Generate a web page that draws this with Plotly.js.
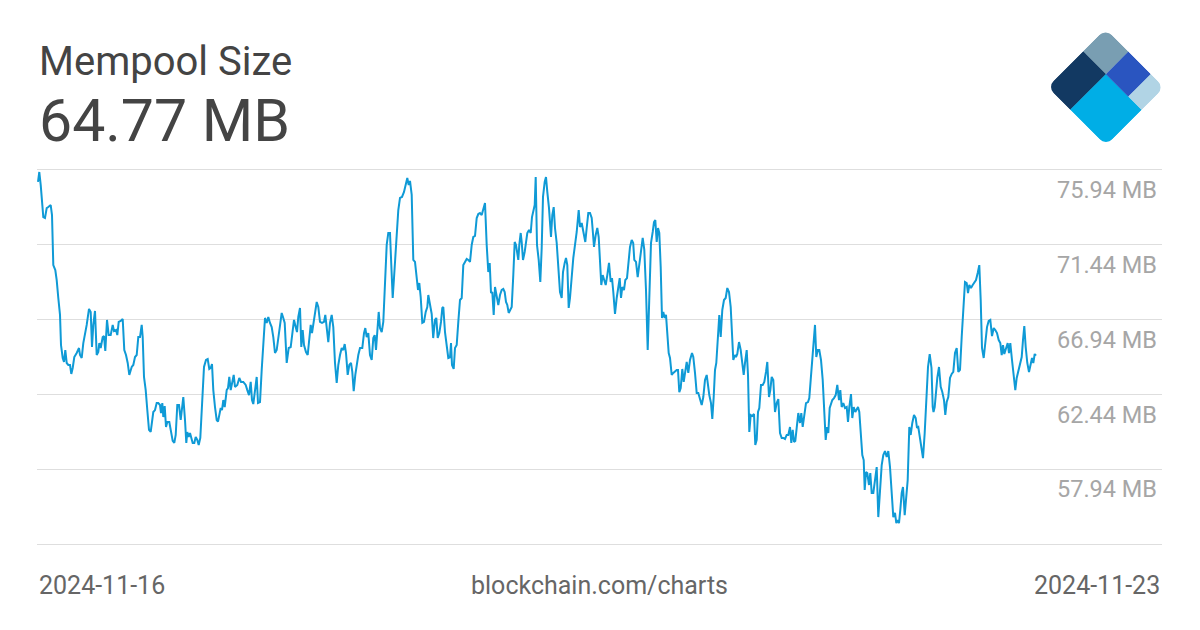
<!DOCTYPE html>
<html>
<head>
<meta charset="utf-8">
<script src="https://cdn.plot.ly/plotly-3.0.1.min.js"></script>
<style>html,body{margin:0;padding:0;background:#fff;}#chart{width:1200px;height:630px;}</style>
</head>
<body>
<div id="chart"></div>
<script>
// Minutes since 2024-11-16 00:00
const minutesSinceStart = [
0,13,27,43,53,70,87,103,127,140,
153,173,187,203,220,230,247,260,273,287,
303,320,333,347,363,387,410,420,437,453,
470,487,510,527,540,553,570,587,603,613,
627,647,660,673,690,707,727,747,760,780,
793,807,827,847,863,880,897,913,937,953,
970,987,1003,1020,1037,1047,1060,1077,1093,1110,
1127,1143,1153,1170,1187,1203,1220,1230,1243,1253,
1267,1280,1293,1313,1327,1347,1363,1377,1393,1410,
1427,1443,1453,1470,1483,1493,1507,1520,1533,1547,
1563,1577,1593,1607,1623,1640,1660,1680,1697,1713,
1727,1740,1753,1770,1787,1800,1813,1827,1840,1853,
1867,1887,1900,1913,1927,1943,1957,1970,1993,2013,
2030,2053,2077,2093,2110,2127,2140,2153,2173,2187,
2200,2220,2237,2253,2270,2287,2303,2320,2337,2353,
2370,2387,2403,2420,2437,2453,2467,2487,2507,2527,
2547,2560,2577,2590,2603,2620,2633,2647,2660,2680,
2697,2713,2727,2740,2753,2770,2787,2803,2820,2840,
2860,2873,2887,2903,2920,2937,2953,2970,2987,3003,
3020,3037,3053,3067,3080,3097,3113,3130,3143,3157,
3173,3187,3203,3220,3243,3260,3273,3287,3303,3320,
3337,3353,3367,3380,3393,3407,3420,3437,3453,3470,
3487,3503,3520,3533,3547,3560,3573,3587,3603,3620,
3640,3660,3677,3693,3707,3720,3737,3753,3770,3787,
3800,3813,3827,3843,3860,3877,3893,3903,3920,3937,
3952,3970,3983,3997,4013,4030,4043,4053,4070,4087,
4103,4120,4130,4140,4157,4170,4187,4203,4220,4237,
4253,4270,4287,4303,4320,4337,4353,4370,4387,4403,
4420,4437,4453,4470,4487,4503,4517,4530,4543,4557,
4570,4587,4603,4620,4637,4653,4667,4680,4693,4707,
4723,4737,4753,4767,4780,4793,4803,4813,4827,4837,
4850,4867,4880,4893,4910,4927,4940,4953,4967,4977,
4990,5007,5023,5037,5050,5067,5080,5093,5110,5130,
5143,5157,5170,5187,5203,5220,5237,5250,5267,5280,
5293,5307,5320,5337,5353,5370,5387,5407,5420,5437,
5453,5473,5487,5503,5520,5537,5547,5560,5577,5593,
5607,5620,5633,5647,5660,5677,5693,5710,5727,5740,
5753,5770,5787,5803,5817,5830,5843,5860,5873,5890,
5907,5920,5937,5952,5963,5980,5997,6013,6030,6047,
6063,6080,6097,6113,6130,6147,6160,6173,6187,6200,
6213,6227,6240,6253,6267,6280,6293,6307,6320,6337,
6353,6370,6387,6400,6413,6427,6443,6457,6470,6487,
6503,6520,6540,6553,6570,6587,6603,6620,6637,6653,
6670,6687,6700,6713,6730,6743,6757,6770,6783,6800,
6813,6827,6843,6860,6877,6893,6910,6927,6940,6953,
6970,6980,6993,7010,7027,7043,7057,7070,7087,7100,
7113,7127,7143,7160,7173,7187,7200,7213,7230,7247,
7263,7280,7293,7310,7323,7337,7353,7370,7387,7403,
7420,7437,7453,7470,7487,7503,7520,7533,7547,7560,
7573,7587,7603,7620,7633,7647,7660,7680,7700,7713,
7727,7740,7753,7770,7783,7797,7813,7830,7847,7860,
7877,7890,7903,7917,7927,7943,7960,7977,7993,8010,
8023,8037,8053,8070,8087,8100,8113,8130,8143,8157,
8173,8187,8200,8213,8230,8243,8257,8267,8280,8293,
8310,8323,8337,8353,8370,8387,8403,8420,8437,8453,
8470,8487,8503,8520,8537,8553,8570,8583,8597,8610,
8623,8637,8650,8667,8680,8697,8713,8727,8743,8760,
8777,8790,8803,8820,8837,8850,8867,8883,8900,8917,
8935,8947,8955,8967,8980,8993,9010,9027,9043,9060,
9073,9087,9103,9120,9137,9153,9170,9187,9203,9220,
9237,9253,9270,9287,9300,9313,9330,9347,9363,9380,
9397,9413,9427,9440,9457,9473,9490,9507,9523,9540,
9557,9573,9590,9607,9623,9637,9650,9663,9680,9697,
9710,9723,9740,9757,9773,9787,9803,9820,9837,9850,
9863,9877,9893,9910,9927,9940,9953,9967,9980
];

// Mempool size in MB
const mempoolMB = [
75.22,75.82,75.04,73.65,73.11,73.05,73.65,73.71,73.83,73.23,
70.22,69.92,69.32,68.24,67.22,65.41,64.63,64.39,65.11,64.33,
64.21,64.21,63.67,64.03,64.69,64.93,65.23,64.81,64.63,65.53,
66.01,66.62,67.58,67.40,65.29,66.62,67.46,64.81,64.99,65.53,
65.23,65.89,65.95,65.05,66.92,66.01,66.01,66.62,66.25,66.31,
66.01,66.80,66.86,66.98,65.11,64.81,64.33,63.61,64.09,64.21,
64.69,64.81,65.89,65.89,66.62,65.89,63.49,62.70,61.50,60.30,
60.18,60.90,61.38,61.50,61.92,61.92,61.80,61.32,61.92,61.08,
61.74,60.48,60.78,60.78,60.30,59.64,59.52,60.00,61.80,61.80,
60.90,61.98,62.28,60.90,59.52,60.18,59.88,60.12,59.82,59.52,
59.52,59.88,59.70,59.40,59.82,62.10,64.09,64.51,64.57,63.97,
64.03,64.27,62.70,61.68,60.90,60.80,61.32,61.62,61.50,62.10,
61.68,62.70,62.82,63.49,62.70,63.31,63.61,62.89,63.01,63.43,
63.19,63.19,63.01,62.70,62.40,63.19,62.10,61.86,62.70,63.49,
61.92,61.98,63.91,65.53,67.04,66.74,67.10,66.74,66.49,65.89,
64.93,65.11,65.83,66.74,67.34,67.04,66.74,64.33,65.23,65.29,
66.13,66.92,66.49,66.19,67.10,67.64,65.29,66.31,65.41,64.99,
64.81,65.71,66.62,66.13,66.74,67.40,68.00,67.70,66.80,66.74,
66.80,67.22,66.31,65.59,66.74,67.22,66.49,64.33,63.13,64.21,
64.81,65.23,65.11,65.47,64.93,63.61,64.21,64.33,63.79,62.64,
63.61,64.33,64.81,65.23,65.23,66.13,66.43,65.89,66.13,64.81,
64.51,65.83,66.01,65.11,66.01,67.40,66.43,66.19,66.80,68.84,
71.43,72.15,72.15,70.22,68.24,69.44,70.65,71.61,73.53,74.26,
74.32,74.62,75.16,75.46,75.04,75.28,74.44,70.53,70.41,69.62,
68.72,69.14,68.30,66.74,66.80,67.40,67.70,68.42,67.76,67.28,
65.83,66.92,67.04,65.83,66.13,66.80,67.64,67.70,66.19,65.41,
64.63,64.67,65.53,64.21,63.97,65.23,65.41,66.80,68.12,68.24,
70.22,70.41,70.59,70.53,70.41,71.43,71.91,71.97,73.05,73.29,
73.35,73.23,73.65,73.95,71.43,69.80,70.35,68.54,68.60,67.22,
68.90,68.24,67.82,68.42,68.72,68.78,68.60,68.00,67.82,67.34,
67.52,67.70,69.62,71.61,71.43,71.01,70.53,71.43,72.15,71.61,
70.53,71.01,71.61,72.15,72.33,72.15,73.11,73.41,73.83,75.52,
71.43,70.53,69.20,71.25,74.32,75.22,75.52,74.62,73.65,71.91,
73.23,73.71,72.45,71.55,70.04,68.60,68.24,69.80,70.35,70.65,
70.22,67.64,68.24,69.80,70.65,71.43,72.21,73.53,72.51,72.75,
72.21,71.61,72.45,73.35,73.35,73.05,72.33,71.31,72.03,72.45,
71.91,70.41,69.02,69.62,69.32,69.02,69.62,70.35,69.20,69.44,
68.60,67.28,68.24,68.84,69.44,68.24,68.90,68.72,69.32,69.44,
70.41,71.31,71.73,71.55,70.53,70.41,69.50,70.22,70.83,71.85,
71.13,68.72,65.11,68.72,71.55,72.21,72.81,72.93,71.61,72.45,
72.15,70.10,67.04,67.40,67.04,67.22,65.89,64.93,64.63,63.61,
63.73,63.85,63.91,63.91,62.58,62.82,63.97,63.19,63.61,64.39,
63.73,64.51,64.93,64.69,63.73,62.52,62.52,62.10,61.80,62.28,
63.31,63.61,62.82,62.40,61.92,60.96,62.28,63.91,64.33,65.71,
67.22,65.89,67.52,68.12,68.24,68.84,68.60,67.70,66.13,64.51,
64.81,64.69,64.87,65.59,65.11,64.21,63.61,64.33,65.11,63.61,
60.18,61.20,61.14,61.26,59.40,59.70,61.38,61.62,63.01,63.01,
63.19,63.79,64.39,62.28,62.70,63.49,63.31,61.38,61.92,62.16,
60.12,59.82,59.82,59.76,60.00,60.00,60.48,59.52,60.30,59.58,
59.64,60.42,61.32,60.72,61.32,60.48,61.08,61.92,61.98,62.22,
63.31,64.51,65.71,66.62,64.69,65.11,65.11,64.51,63.31,61.32,
59.70,60.48,60.12,61.62,61.80,62.10,62.22,62.40,63.01,62.10,
62.70,61.68,61.92,61.62,61.68,60.78,61.68,62.46,61.02,61.68,
61.38,61.50,61.68,61.38,59.70,58.79,58.49,56.69,57.77,57.71,
56.99,57.71,56.51,56.51,57.29,58.07,55.06,56.87,58.19,58.79,
59.03,58.67,59.03,58.07,56.27,55.06,55.31,54.70,54.88,54.70,
55.49,56.51,56.87,55.18,56.09,57.29,60.48,60.00,60.72,61.20,
61.02,60.42,60.48,59.88,59.28,58.61,60.12,62.10,64.09,64.87,
64.03,61.68,61.38,61.68,62.70,63.43,64.09,62.89,62.58,62.10,
61.20,61.98,62.28,63.43,63.67,63.79,64.93,65.23,63.79,63.91,
65.89,67.94,69.20,69.14,68.54,69.02,68.84,69.02,69.20,69.32,
69.74,70.22,68.12,65.23,64.63,65.53,66.49,66.86,66.92,65.95,
66.43,66.31,66.13,65.71,65.53,64.81,65.41,64.87,65.29,65.53,
64.93,65.53,64.51,63.73,62.70,63.43,63.79,64.33,64.69,65.71,
66.55,65.29,64.33,63.79,64.21,64.63,64.33,64.87,64.77
];

const gridValues = [53.44, 57.94, 62.44, 66.94, 71.44, 75.94];
const gridLabels = ['', '57.94 MB', '62.44 MB', '66.94 MB', '71.44 MB', '75.94 MB'];
const chartTitle = 'Mempool Size';
const startLabel = '2024-11-16';
const endLabel = '2024-11-23';
const sourceLabel = 'blockchain.com/charts';

const FONT = 'Roboto, "Open Sans", "DejaVu Sans", sans-serif';

const logoSvg =
  "<svg xmlns='http://www.w3.org/2000/svg' viewBox='1040 20 130 130' width='130' height='130'>" +
  "<defs><clipPath id='c'><rect x='-32.3' y='-31.7' width='83' height='82.4' rx='9' ry='9'/></clipPath></defs>" +
  "<g transform='translate(1106 74) rotate(45)'><g clip-path='url(#c)'>" +
  "<rect x='-32.3' y='-31.7' width='32.5' height='31.9' fill='#799EB2'/>" +
  "<rect x='-32.3' y='0' width='32.5' height='50.7' fill='#123962'/>" +
  "<rect x='0' y='0' width='50.7' height='50.7' fill='#00AEE6'/>" +
  "<rect x='0' y='-31.7' width='31.9' height='31.9' fill='#2A55C0'/>" +
  "<rect x='31.7' y='-31.7' width='19' height='31.9' fill='#B1D4E5'/>" +
  "</g></g></svg>";

const lastValue = mempoolMB[mempoolMB.length - 1];

// plot area: x 37..1162, y 168..546 (gridlines sit 2px inside the top/bottom edges)
const PLOT_TOP = 168, PLOT_BOTTOM = 546, PLOT_H = PLOT_BOTTOM - PLOT_TOP;
const py = (p) => (PLOT_BOTTOM - p) / PLOT_H;

const trace = {
  x: minutesSinceStart,
  y: mempoolMB,
  type: 'scatter',
  mode: 'lines',
  line: {color: '#0f9ad6', width: 2},
  hoverinfo: 'skip'
};

const layout = {
  width: 1200,
  height: 630,
  margin: {l: 37, r: 38, t: PLOT_TOP, b: 630 - PLOT_BOTTOM},
  paper_bgcolor: '#ffffff',
  plot_bgcolor: '#ffffff',
  showlegend: false,
  font: {family: FONT},
  xaxis: {
    range: [-10, 11240],
    showgrid: false,
    zeroline: false,
    showline: false,
    showticklabels: false,
    ticks: '',
    fixedrange: true
  },
  yaxis: {
    range: [53.32, 76.06],
    side: 'right',
    tickmode: 'array',
    tickvals: gridValues,
    ticktext: gridLabels,
    ticklabelposition: 'inside',
    ticklabelshift: 20,
    ticklabelstandoff: 2,
    ticklabeloverflow: 'allow',
    ticks: '',
    showgrid: true,
    gridcolor: '#dedede',
    gridwidth: 1,
    zeroline: false,
    showline: false,
    tickfont: {family: FONT, size: 23.5, color: '#a6a6a6'},
    fixedrange: true
  },
  annotations: [
    {text: chartTitle, xref: 'paper', yref: 'paper', x: 0, y: py(62), xanchor: 'left', yanchor: 'middle',
     showarrow: false, font: {family: FONT, size: 40, color: '#444444'}},
    {text: lastValue.toFixed(2) + ' MB', xref: 'paper', yref: 'paper', x: 0, y: py(121), xanchor: 'left', yanchor: 'middle',
     showarrow: false, font: {family: FONT, size: 59, color: '#444444'}},
    {text: startLabel, xref: 'paper', yref: 'paper', x: 0, y: py(585), xanchor: 'left', yanchor: 'middle',
     showarrow: false, font: {family: FONT, size: 25, color: '#666666'}},
    {text: sourceLabel, xref: 'paper', yref: 'paper', x: 0.5004, y: py(585), xanchor: 'center', yanchor: 'middle',
     showarrow: false, font: {family: FONT, size: 25, color: '#666666'}},
    {text: endLabel, xref: 'paper', yref: 'paper', x: 1, y: py(585), xanchor: 'right', yanchor: 'middle',
     showarrow: false, font: {family: FONT, size: 25, color: '#666666'}}
  ],
  images: [{
    source: 'data:image/svg+xml;charset=utf-8,' + encodeURIComponent(logoSvg),
    xref: 'paper', yref: 'paper',
    x: (1040 - 37) / 1125, y: py(20),
    sizex: 130 / 1125, sizey: 130 / PLOT_H,
    xanchor: 'left', yanchor: 'top',
    sizing: 'stretch', layer: 'above'
  }]
};

Plotly.newPlot('chart', [trace], layout, {displayModeBar: false, staticPlot: true});
</script>
</body>
</html>
